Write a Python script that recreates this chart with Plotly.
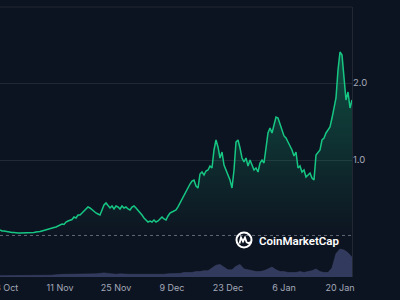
import plotly.graph_objects as go
import pandas as pd

# Price (USD), sampled every 12 hours starting 27 Oct
prices = [
    0.091, 0.078, 0.078, 0.071, 0.065, 0.065, 0.058, 0.058, 0.052, 0.052,
    0.052, 0.052, 0.052, 0.052, 0.052, 0.052, 0.058, 0.058, 0.065, 0.065,
    0.071, 0.078, 0.084, 0.091, 0.097, 0.104, 0.117, 0.123, 0.130, 0.143,
    0.156, 0.169, 0.162, 0.195, 0.208, 0.221, 0.227, 0.260, 0.247, 0.286,
    0.286, 0.312, 0.338, 0.364, 0.390, 0.377, 0.351, 0.338, 0.312, 0.299,
    0.286, 0.351, 0.416, 0.442, 0.403, 0.377, 0.403, 0.364, 0.403, 0.390,
    0.364, 0.403, 0.377, 0.390, 0.364, 0.351, 0.390, 0.403, 0.377, 0.351,
    0.325, 0.286, 0.247, 0.221, 0.195, 0.208, 0.195, 0.221, 0.195, 0.208,
    0.234, 0.260, 0.234, 0.221, 0.273, 0.312, 0.325, 0.338, 0.351, 0.390,
    0.442, 0.494, 0.532, 0.584, 0.636, 0.688, 0.727, 0.740, 0.662, 0.636,
    0.818, 0.844, 0.805, 0.857, 0.870, 0.922, 0.896, 1.130, 1.260, 1.169,
    1.026, 1.104, 0.935, 0.870, 0.792, 0.740, 0.636, 0.870, 1.234, 1.260,
    1.156, 1.026, 0.974, 1.026, 0.922, 1.000, 0.935, 0.870, 0.896, 0.844,
    0.961, 1.000, 0.961, 1.130, 1.351, 1.416, 1.351, 1.455, 1.558, 1.545,
    1.455, 1.390, 1.312, 1.286, 1.234, 1.182, 1.130, 1.052, 1.104, 0.896,
    0.922, 0.844, 0.870, 0.779, 0.805, 0.831, 0.766, 0.740, 1.065, 1.091,
    1.130, 1.260, 1.286, 1.351, 1.390, 1.429, 1.545, 1.701, 1.805, 2.169,
    2.403, 2.364, 2.039, 1.779, 1.883, 1.675, 1.779,
]

# Daily volume (M USD)
volumes = [
    3, 3, 3, 3, 3, 3, 3, 3, 3, 3,
    4, 4, 4, 4, 5, 6, 6, 6, 6, 6,
    7, 7, 6, 6, 7, 8, 9, 8, 7, 6,
    7, 6, 6, 6, 6, 6, 5, 5, 5, 6,
    6, 6, 7, 7, 8, 8, 10, 10, 10, 12,
    12, 14, 14, 20, 26, 28, 22, 16, 16, 24,
    28, 18, 16, 14, 12, 12, 14, 18, 22, 16,
    12, 12, 10, 10, 10, 12, 10, 12, 14, 18,
    12, 10, 10, 20, 52, 62, 60, 54, 44,
]

tick_dates = ["2024-10-28", "2024-11-11", "2024-11-25", "2024-12-09",
              "2024-12-23", "2025-01-06", "2025-01-20"]
tick_text = ["28 Oct", "11 Nov", "25 Nov", "9 Dec", "23 Dec", "6 Jan", "20 Jan"]
y_ticks = [1, 2]
y_tick_text = ["1.0", "2.0"]
open_level = 0.02

start = pd.Timestamp("2024-10-27 00:00")
price_dates = pd.date_range(start, periods=len(prices), freq="12h")
vol_dates = pd.date_range(start, periods=len(volumes), freq="24h")

BG = "#0d1421"
GRID = "rgba(255,255,255,0.09)"
TXT = "#a3a9b9"
GREEN = "#16c784"

fig = go.Figure()
fig.add_trace(go.Scatter(
    x=price_dates, y=prices, mode="lines",
    line=dict(color=GREEN, width=1.5),
    fill="tozeroy",
    fillgradient=dict(type="vertical",
                      colorscale=[[0, "rgba(22,199,132,0)"],
                                  [1, "rgba(22,199,132,0.32)"]]),
    hoverinfo="skip",
))
fig.add_trace(go.Scatter(
    x=vol_dates, y=volumes, mode="lines", yaxis="y2",
    line=dict(color="#3c4468", width=0.5),
    fill="tozeroy", fillcolor="rgba(58,66,104,0.85)",
    hoverinfo="skip",
))

fig.update_layout(
    width=400, height=300,
    margin=dict(l=0, r=48, t=7, b=23),
    paper_bgcolor=BG, plot_bgcolor=BG,
    showlegend=False,
    xaxis=dict(
        type="date", automargin=False,
        range=[price_dates[0], price_dates[-1]],
        tickvals=tick_dates, ticktext=tick_text,
        showgrid=False, zeroline=False, showline=False, ticks="",
        ticklabeloverflow="allow", ticklabelstandoff=4,
        tickfont=dict(family="Inter", size=9, color=TXT),
    ),
    yaxis=dict(
        side="right", automargin=False,
        range=[-0.5195, 2.987],
        tickvals=y_ticks, ticktext=y_tick_text,
        showgrid=True, gridcolor=GRID, gridwidth=1,
        zeroline=False, showline=True, linecolor=GRID, linewidth=1,
        ticks="", ticklabelstandoff=-2,
        tickfont=dict(family="Inter", size=9.5, color=TXT),
    ),
    yaxis2=dict(overlaying="y", range=[0, 600], visible=False),
    shapes=[
        dict(type="line", xref="paper", yref="paper", x0=0, x1=1, y0=1, y1=1,
             line=dict(color=GRID, width=1)),
        dict(type="line", xref="paper", yref="y", x0=0, x1=1,
             y0=open_level, y1=open_level,
             line=dict(color="rgba(200,205,220,0.45)", width=1, dash="dot")),
        dict(type="circle", xref="paper", yref="paper",
             xsizemode="pixel", ysizemode="pixel",
             xanchor=244 / 352, yanchor=(277 - 240) / 270,
             x0=-7.5, x1=7.5, y0=-7.5, y1=7.5,
             line=dict(color="white", width=2)),
        dict(type="path", xref="paper", yref="paper",
             xsizemode="pixel", ysizemode="pixel",
             xanchor=244 / 352, yanchor=(277 - 240) / 270,
             path="M -4.5,-3.5 L -3,2.5 L -1,-1.5 L 1,2.5 L 2.5,-2 Q 4,-4 7,-2",
             line=dict(color="white", width=1.8)),
    ],
    annotations=[
        dict(text="CoinMarketCap", xref="paper", yref="paper",
             x=257 / 352, y=(277 - 240.5) / 270,
             xanchor="left", yanchor="middle", showarrow=False,
             font=dict(family="Roboto", size=11.5, color="white", weight=600)),
    ],
)

fig.write_html("out.html")
